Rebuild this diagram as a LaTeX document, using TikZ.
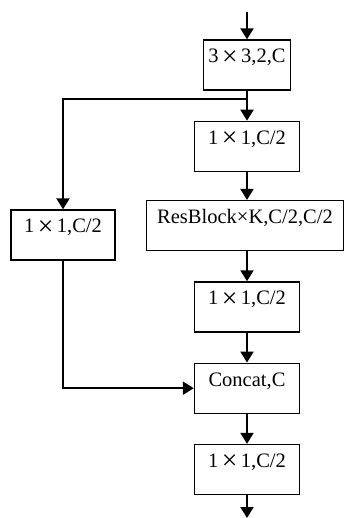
\documentclass[tikz,border=0pt]{standalone}
\usepackage{fontspec}
\usepackage{graphicx}
\setmainfont{Liberation Serif}
\usetikzlibrary{arrows.meta, positioning}

\newcommand{\wtimes}{\hspace{0.17em}\raisebox{-0.12em}{\scalebox{1.35}{×}}\hspace{0.17em}}

\begin{document}
\begin{tikzpicture}[x=1pt, y=-1pt]
\tikzset{font=\fontsize{20.5pt}{24pt}\selectfont}
\tikzset{node distance=30pt}
\tikzset{block/.style={draw, line width=1.3pt, inner sep=0pt, minimum width=105pt, text height=23pt, text depth=27pt, align=center}}
\tikzset{arr/.style={line width=2pt, -{Triangle[length=11pt, width=13pt]}}}
\useasboundingbox (0,0) rectangle (344,518);
% main column
\node[block, minimum width=87pt] (conv) at (247,65) {3\wtimes 3,2,C};
\node[block, below=of conv] (split1) {1\wtimes 1,C/2};
\node[block, minimum width=197pt, below=28pt of split1, xshift=-2pt] (res) {ResBlock×K,C/2,C/2};
\node[block, below=of res, xshift=2pt] (trans) {1\wtimes 1,C/2};
\node[block, below=of trans] (concat) {Concat,C};
\node[block, below=of concat] (out) {1\wtimes 1,C/2};
% side branch
\node[block, minimum width=104pt] (split2) at (63,235) {1\wtimes 1,C/2};
\coordinate (in) at (247,12);
\coordinate (end) at (247,518);
\path (conv.south) ++(0,8) coordinate (fork);
% connectors
\draw[arr] (in) -- (conv.north);
\draw[arr] (conv.south) -- (split1.north);
\draw[arr] (fork) -| (split2.north);
\draw[arr] (split1.south) -- (split1.south |- res.north);
\draw[arr] (split1.south |- res.south) -- (trans.north);
\draw[arr] (trans.south) -- (concat.north);
\draw[arr] (split2.south) |- (concat.west);
\draw[arr] (concat.south) -- (out.north);
\draw[arr] (out.south) -- (end);
\end{tikzpicture}
\end{document}
